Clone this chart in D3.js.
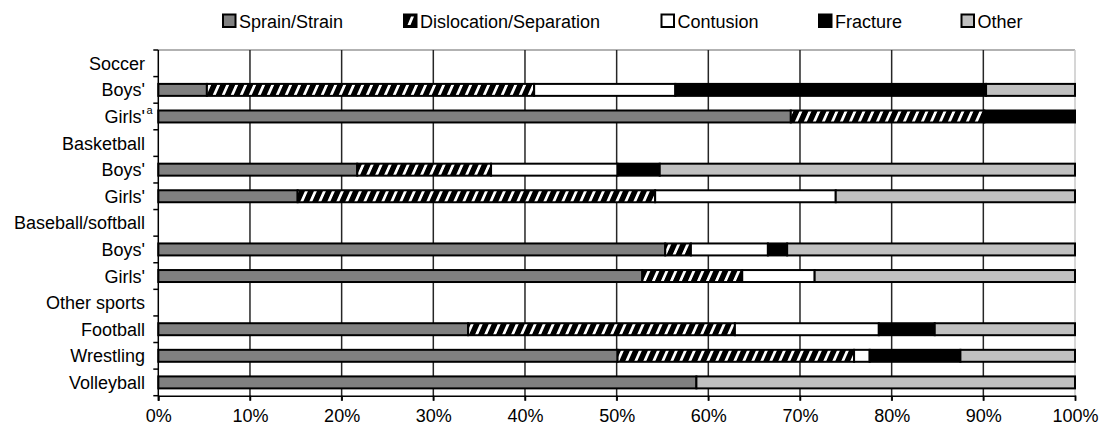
<!DOCTYPE html>
<html>
<head>
<meta charset="utf-8">
<script src="https://cdn.jsdelivr.net/npm/d3@7/dist/d3.min.js"></script>
<style>
  html, body { margin: 0; padding: 0; background: #fff; }
  svg { display: block; font-family: "Liberation Sans", Arial, sans-serif; }
</style>
</head>
<body>
<svg id="chart" width="1101" height="429"></svg>
<script>
// ---------- data ----------
const categories = ["Soccer", "Boys'", "Girls'", "Basketball", "Boys'", "Girls'",
  "Baseball/softball", "Boys'", "Girls'", "Other sports", "Football", "Wrestling", "Volleyball"];
const superscripts = [null, null, "a", null, null, null, null, null, null, null, null, null, null];
const seriesNames = ["Sprain/Strain", "Dislocation/Separation", "Contusion", "Fracture", "Other"];
const sprain      = [null, 5.3, 69.0, null, 21.7, 15.2, null, 55.3, 52.8, null, 33.8, 50.1, 58.7];
const dislocation = [null, 35.7, 21.1, null, 14.6, 39.0, null, 2.8, 10.9, null, 29.1, 25.8, 0];
const contusion   = [null, 15.4, 0, null, 13.8, 19.7, null, 8.4, 7.9, null, 15.7, 1.7, 0];
const fracture    = [null, 33.9, 9.9, null, 4.6, 0, null, 2.1, 0, null, 6.1, 9.9, 0];
const other       = [null, 9.7, 0, null, 45.3, 26.1, null, 31.4, 28.4, null, 15.3, 12.5, 41.3];
const xTicks = [0, 10, 20, 30, 40, 50, 60, 70, 80, 90, 100];

// ---------- setup ----------
(function () {
const svg = d3.select("#chart");
const pLeft = 158.3, pRight = 1075, pTop = 50, pBottom = 395.7;
const fills = ["#808080", "url(#hatch)", "#ffffff", "#000000", "#c0c0c0"];

const keys = categories.map((c, i) => "r" + i);
const rows = keys.map((k, i) => ({
  key: k,
  "Sprain/Strain": sprain[i],
  "Dislocation/Separation": dislocation[i],
  "Contusion": contusion[i],
  "Fracture": fracture[i],
  "Other": other[i],
  isHeader: sprain[i] === null
}));

const x = d3.scaleLinear().domain([0, 100]).range([pLeft, pRight]);
const y = d3.scaleBand().domain(keys).range([pTop, pBottom]).paddingInner(0.55).paddingOuter(0.275);

// pattern
const defs = svg.append("defs");
const pat = defs.append("pattern")
  .attr("id", "hatch").attr("patternUnits", "userSpaceOnUse")
  .attr("width", 9).attr("height", 9)
  .attr("patternTransform", "skewX(-24)");
pat.append("rect").attr("width", 9).attr("height", 9).attr("fill", "#000");
pat.append("rect").attr("x", 3).attr("width", 3).attr("height", 9).attr("fill", "#fff");

// plot frame (top and right)
svg.append("line").attr("x1", pLeft).attr("x2", pRight).attr("y1", pTop).attr("y2", pTop)
  .attr("stroke", "#999").attr("stroke-width", 1.5);
svg.append("line").attr("x1", pRight).attr("x2", pRight).attr("y1", pTop).attr("y2", pBottom)
  .attr("stroke", "#c8c8c8").attr("stroke-width", 1.5);

// gridlines (with tick extension below)
svg.append("g").selectAll("line").data(xTicks.filter(t => t > 0 && t < 100)).join("line")
  .attr("x1", d => x(d)).attr("x2", d => x(d))
  .attr("y1", pTop).attr("y2", pBottom + 5)
  .attr("stroke", "#262626").attr("stroke-width", 1.5);

// bars
const stack = d3.stack().keys(seriesNames)(rows.filter(r => !r.isHeader));
stack.forEach((layer, si) => {
  svg.append("g").selectAll("rect")
    .data(layer.filter(d => d[1] - d[0] > 0))
    .join("rect")
    .attr("x", d => x(d[0]))
    .attr("width", d => x(d[1]) - x(d[0]))
    .attr("y", d => y(d.data.key))
    .attr("height", y.bandwidth())
    .attr("fill", fills[si])
    .attr("stroke", "#000")
    .attr("stroke-width", 2);
});

// bottom axis
const xAxis = d3.axisBottom(x).tickValues(xTicks).tickFormat(d => d + "%").tickSize(5).tickPadding(9);
const gx = svg.append("g").attr("transform", `translate(0,${pBottom})`).call(xAxis);
gx.select(".domain").attr("stroke", "#000").attr("stroke-width", 1.5);
gx.selectAll(".tick line").attr("stroke", "#000").attr("stroke-width", 1.5);
gx.selectAll(".tick text").attr("font-size", 18).attr("fill", "#000")
  .attr("font-family", "'Liberation Sans', Arial, sans-serif");

// left axis: line + ticks at band boundaries
const step = y.step();
const boundaries = d3.range(categories.length + 1).map(i => pTop + i * step);
svg.append("line").attr("x1", pLeft).attr("x2", pLeft).attr("y1", pTop).attr("y2", pBottom + 5)
  .attr("stroke", "#000").attr("stroke-width", 1.5);
svg.append("g").selectAll("line").data(boundaries).join("line")
  .attr("x1", pLeft - 5).attr("x2", pLeft).attr("y1", d => d).attr("y2", d => d)
  .attr("stroke", "#000").attr("stroke-width", 1.5);

// category labels
const lab = svg.append("g").attr("font-size", 18).attr("fill", "#000");
lab.selectAll("text.cat").data(categories).join("text")
  .attr("class", "cat")
  .attr("x", 145)
  .attr("y", (d, i) => y(keys[i]) + y.bandwidth() / 2 + 6.5)
  .attr("text-anchor", "end")
  .text(d => d);
lab.selectAll("text.sup").data(superscripts.map((s, i) => ({ s, i })).filter(d => d.s)).join("text")
  .attr("class", "sup")
  .attr("x", 146.5)
  .attr("y", d => y(keys[d.i]) + y.bandwidth() / 2 - 2)
  .attr("font-size", 11)
  .text(d => d.s);

// legend
const legendX = [222, 403, 660.5, 818, 960.5];
const lg = svg.append("g");
seriesNames.forEach((name, i) => {
  const g = lg.append("g").attr("transform", `translate(${legendX[i]},0)`);
  g.append("rect").attr("x", 1).attr("y", 14.5).attr("width", 12.5).attr("height", 12.5)
    .attr("fill", i === 1 ? "#000" : fills[i]).attr("stroke", "#000").attr("stroke-width", 2);
  if (i === 1) {
    g.append("path").attr("d", "M4.5,25 L7.5,25 L11,16.5 L8,16.5 Z").attr("fill", "#fff");
  }
  g.append("text").attr("x", 17).attr("y", 27.5).attr("font-size", 18).attr("fill", "#000").text(name);
});
})();
</script>
</body>
</html>
